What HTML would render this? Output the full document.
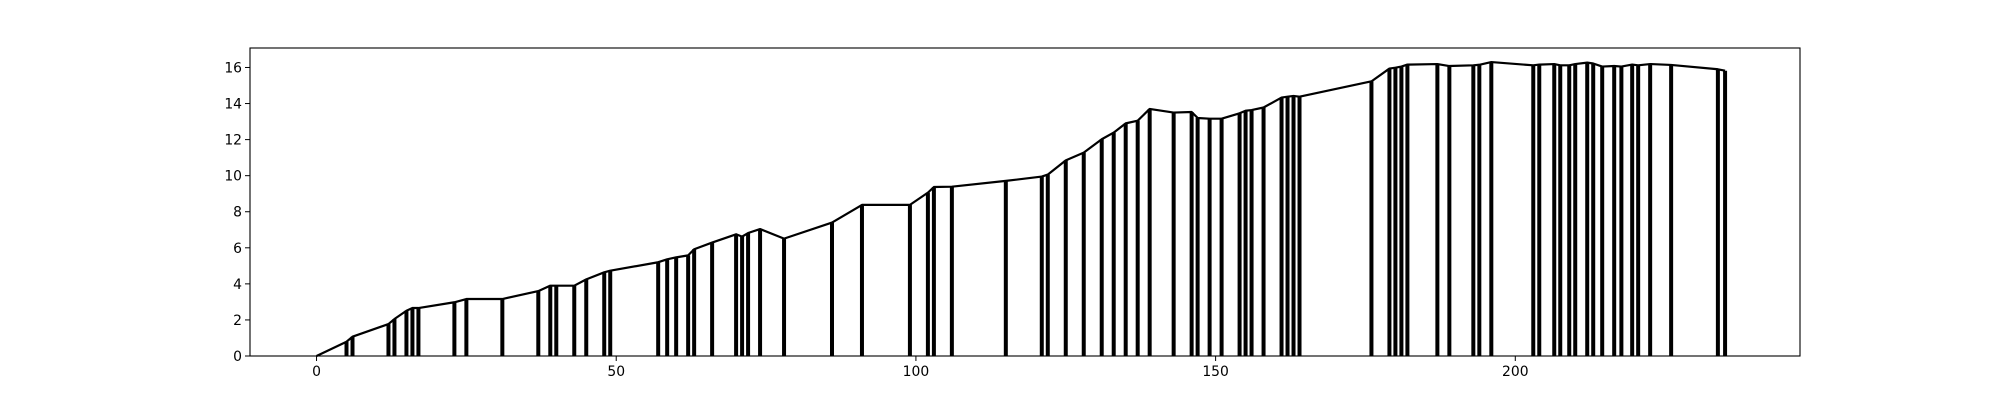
<!DOCTYPE html>
<html><head><meta charset="utf-8"><style>
html,body{margin:0;padding:0;background:#fff;}
svg text{font-family:"DejaVu Sans","Liberation Sans",sans-serif;font-size:13.9px;fill:#000;}
</style></head><body>
<svg id="chart" width="2000" height="400" xmlns="http://www.w3.org/2000/svg"></svg>
<script>
const xValues=[0,5,6,12,13,15,16,17,23,25,31,37,39,40,43,45,48,49,57,58.5,60,62,63,66,70,71,72,74,78,86,91,99,102,103,106,115,121,122,125,128,131,133,135,137,139,143,146,147,149,151,154,155,156,158,161,162,163,164,176,179,180,181,182,187,189,193,194,196,203,204,206.5,207.5,209,210,212,213,214.5,216.5,217.7,219.5,220.5,222.5,226,233.8,235];
const yValues=[0,0.79,1.07,1.77,2.05,2.51,2.66,2.66,2.98,3.16,3.16,3.6,3.9,3.9,3.9,4.25,4.64,4.73,5.2,5.36,5.47,5.58,5.92,6.29,6.75,6.62,6.82,7.04,6.51,7.4,8.38,8.38,9.06,9.37,9.39,9.71,9.95,10.06,10.85,11.28,12.02,12.39,12.9,13.05,13.7,13.5,13.53,13.2,13.16,13.16,13.46,13.6,13.64,13.78,14.33,14.38,14.42,14.38,15.23,15.94,15.99,16.05,16.16,16.19,16.08,16.12,16.15,16.3,16.12,16.16,16.19,16.12,16.12,16.19,16.27,16.22,16.05,16.08,16.05,16.16,16.12,16.19,16.14,15.9,15.82];
const xTicks=[0,50,100,150,200];
const yTicks=[0,2,4,6,8,10,12,14,16];
const L=250,R=1800,T=48,B=356,XMIN=-11.1,XMAX=247.5,YMIN=0,YMAX=17.08;
const sx=v=>L+(v-XMIN)/(XMAX-XMIN)*(R-L);
const sy=v=>B-(v-YMIN)/(YMAX-YMIN)*(B-T);
const svg=document.getElementById('chart');
const NS='http://www.w3.org/2000/svg';
function mk(tag,attrs){const e=document.createElementNS(NS,tag);for(const k in attrs)e.setAttribute(k,attrs[k]);svg.appendChild(e);return e;}
xValues.forEach((x,i)=>{if(i===0)return;
  const l=mk('line',{x1:sx(x),x2:sx(x),y1:sy(0),y2:sy(yValues[i]),stroke:'#000','stroke-width':4});
  
  
});
const pl=mk('polyline',{points:xValues.map((x,i)=>sx(x)+','+sy(yValues[i])).join(' '),fill:'none',stroke:'#000','stroke-width':2.2,'stroke-linejoin':'round'});


const fr=mk('rect',{x:L,y:T,width:R-L,height:B-T,fill:'none',stroke:'#000','stroke-width':1.1});


xTicks.forEach(t=>{
  const tk=mk('line',{x1:sx(t),x2:sx(t),y1:B,y2:B+5,stroke:'#000','stroke-width':1});
  
  
  const tx=mk('text',{x:sx(t),y:B+20,'text-anchor':'middle'});tx.textContent=t;
  
  
});
yTicks.forEach(t=>{
  const tk=mk('line',{x1:L-5,x2:L,y1:sy(t),y2:sy(t),stroke:'#000','stroke-width':1});
  
  
  const tx=mk('text',{x:L-8,y:sy(t)+5,'text-anchor':'end'});tx.textContent=t;
  
  
});
</script>
</body></html>
